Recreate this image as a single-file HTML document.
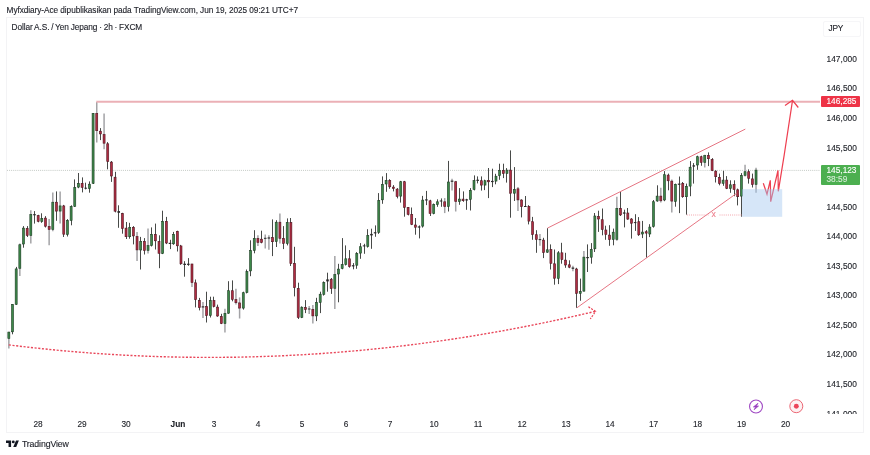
<!DOCTYPE html>
<html lang="id">
<head>
<meta charset="utf-8">
<title>Dollar A.S. / Yen Jepang · 2h · FXCM</title>
<style>
  html,body{margin:0;padding:0;background:#fff;}
  body{width:870px;height:455px;overflow:hidden;position:relative;font-family:"Liberation Sans",sans-serif;color:#131722;}
  .abs{position:absolute;white-space:nowrap;line-height:1;-webkit-text-stroke:0.12px currentColor;}
  #hdr{left:6.6px;top:6.9px;font-size:8.25px;letter-spacing:-0.06px;color:#1c1e26;}
  #chart{position:absolute;left:6px;top:17px;width:858px;height:416px;border:1px solid #f3f3f5;box-sizing:border-box;}
  #sym{left:11.6px;top:23.3px;font-size:8.3px;letter-spacing:-0.1px;word-spacing:-0.35px;color:#1c1e26;}
  #cur{left:823px;top:20.5px;width:37.5px;height:16px;border:1px solid #f6f6f8;border-radius:2px;box-sizing:border-box;font-size:8.3px;letter-spacing:-0.2px;color:#1c1e26;}
  #cur span{position:absolute;left:4.5px;top:2.9px;}
  .pl{right:13.1px;font-size:8.35px;letter-spacing:0.03px;color:#1e2027;}
  .tl{font-size:8.3px;color:#1e2027;top:420.1px;transform:translateX(-50%);}
  .tag{left:820.6px;width:39.6px;border-radius:1px;color:#fff;font-size:8.3px;box-sizing:border-box;}
  #tagr{top:96.3px;height:10.9px;background:#ee3346;}
  #tagg{top:165.1px;height:19.7px;background:#4caf50;}
  .tag span{position:absolute;left:5.9px;white-space:nowrap;line-height:1;}
  #logo{left:6px;top:437px;}
  #logot{left:21.9px;top:439.9px;font-size:8.75px;letter-spacing:-0.12px;color:#1c1e26;}
  svg{position:absolute;left:0;top:0;}
</style>
</head>
<body>
<div id="hdr" class="abs">Myfxdiary-Ace dipublikasikan pada TradingView.com, Jun 19, 2025 09:21 UTC+7</div>
<div id="chart"></div>
<div id="sym" class="abs">Dollar A.S. / Yen Jepang · 2h · FXCM</div>
<div id="cur" class="abs"><span>JPY</span></div>

<svg width="870" height="455" viewBox="0 0 870 455">
  <!-- right axis separator -->
  <!-- current price dotted line -->
  <line x1="7" y1="170.4" x2="820" y2="170.4" stroke="#b0b8b2" stroke-width="0.75" stroke-dasharray="1 1.07"/>
  <!-- candles -->
  <g shape-rendering="auto">
<line x1="8.85" y1="331.8" x2="8.85" y2="348.5" stroke="#a3a3a6" stroke-width="1.5"/>
<rect x="7.85" y="332.1" width="2.0" height="6.4" fill="#3d8849" stroke="#1d3c24" stroke-width="0.6"/>
<line x1="12.5" y1="304.2" x2="12.5" y2="334.3" stroke="#484a48" stroke-width="1"/>
<rect x="11.51" y="304.5" width="2.0" height="27.3" fill="#3d8849" stroke="#1d3c24" stroke-width="0.6"/>
<line x1="16.5" y1="266.9" x2="16.5" y2="304.8" stroke="#484a48" stroke-width="1"/>
<rect x="15.17" y="268.9" width="2.0" height="35.4" fill="#3d8849" stroke="#1d3c24" stroke-width="0.6"/>
<line x1="19.83" y1="243.5" x2="19.83" y2="276.1" stroke="#a3a3a6" stroke-width="1.5"/>
<rect x="18.83" y="244.7" width="2.0" height="23.6" fill="#3d8849" stroke="#1d3c24" stroke-width="0.6"/>
<line x1="23.5" y1="226.1" x2="23.5" y2="247.7" stroke="#484a48" stroke-width="1"/>
<rect x="22.50" y="228.1" width="2.0" height="15.9" fill="#3d8849" stroke="#1d3c24" stroke-width="0.6"/>
<line x1="27.5" y1="226.1" x2="27.5" y2="237.0" stroke="#484a48" stroke-width="1"/>
<rect x="26.16" y="228.4" width="2.0" height="7.1" fill="#b02c42" stroke="#4e1620" stroke-width="0.6"/>
<line x1="30.82" y1="210.3" x2="30.82" y2="243.5" stroke="#a3a3a6" stroke-width="1.5"/>
<rect x="29.82" y="214.4" width="2.0" height="21.1" fill="#3d8849" stroke="#1d3c24" stroke-width="0.6"/>
<line x1="34.5" y1="211.1" x2="34.5" y2="223.6" stroke="#484a48" stroke-width="1"/>
<rect x="33.18" y="214.1" width="2.6" height="1.2" fill="#2a2a2a"/>
<line x1="38.5" y1="214.8" x2="38.5" y2="222.3" stroke="#484a48" stroke-width="1"/>
<rect x="37.15" y="215.6" width="2.0" height="5.7" fill="#b02c42" stroke="#4e1620" stroke-width="0.6"/>
<line x1="41.5" y1="213.3" x2="41.5" y2="222.8" stroke="#484a48" stroke-width="1"/>
<rect x="40.81" y="218.4" width="2.0" height="3.2" fill="#3d8849" stroke="#1d3c24" stroke-width="0.6"/>
<line x1="45.5" y1="216.1" x2="45.5" y2="227.5" stroke="#484a48" stroke-width="1"/>
<rect x="44.47" y="218.1" width="2.0" height="8.1" fill="#b02c42" stroke="#4e1620" stroke-width="0.6"/>
<line x1="49.14" y1="219.1" x2="49.14" y2="245.2" stroke="#a3a3a6" stroke-width="1.5"/>
<rect x="48.14" y="226.4" width="2.0" height="3.1" fill="#b02c42" stroke="#4e1620" stroke-width="0.6"/>
<line x1="52.80" y1="192.4" x2="52.80" y2="231.2" stroke="#a3a3a6" stroke-width="1.5"/>
<rect x="51.80" y="202.2" width="2.0" height="27.3" fill="#3d8849" stroke="#1d3c24" stroke-width="0.6"/>
<line x1="56.5" y1="191.4" x2="56.5" y2="220.8" stroke="#484a48" stroke-width="1"/>
<rect x="55.46" y="202.2" width="2.0" height="8.9" fill="#b02c42" stroke="#4e1620" stroke-width="0.6"/>
<line x1="60.12" y1="191.4" x2="60.12" y2="223.6" stroke="#a3a3a6" stroke-width="1.5"/>
<rect x="59.12" y="205.9" width="2.0" height="5.2" fill="#3d8849" stroke="#1d3c24" stroke-width="0.6"/>
<line x1="63.5" y1="204.9" x2="63.5" y2="237.0" stroke="#484a48" stroke-width="1"/>
<rect x="62.79" y="205.9" width="2.0" height="28.3" fill="#b02c42" stroke="#4e1620" stroke-width="0.6"/>
<line x1="67.5" y1="219.1" x2="67.5" y2="236.5" stroke="#484a48" stroke-width="1"/>
<rect x="66.45" y="220.6" width="2.0" height="13.9" fill="#3d8849" stroke="#1d3c24" stroke-width="0.6"/>
<line x1="71.5" y1="205.3" x2="71.5" y2="225.3" stroke="#484a48" stroke-width="1"/>
<rect x="70.11" y="206.4" width="2.0" height="14.1" fill="#3d8849" stroke="#1d3c24" stroke-width="0.6"/>
<line x1="74.5" y1="179.4" x2="74.5" y2="206.9" stroke="#484a48" stroke-width="1"/>
<rect x="73.77" y="187.5" width="2.0" height="18.8" fill="#3d8849" stroke="#1d3c24" stroke-width="0.6"/>
<line x1="78.5" y1="173.0" x2="78.5" y2="188.2" stroke="#484a48" stroke-width="1"/>
<rect x="77.44" y="183.5" width="2.0" height="3.6" fill="#3d8849" stroke="#1d3c24" stroke-width="0.6"/>
<line x1="82.5" y1="177.4" x2="82.5" y2="192.4" stroke="#484a48" stroke-width="1"/>
<rect x="81.10" y="183.3" width="2.0" height="4.1" fill="#b02c42" stroke="#4e1620" stroke-width="0.6"/>
<line x1="85.5" y1="182.7" x2="85.5" y2="189.4" stroke="#484a48" stroke-width="1"/>
<rect x="84.46" y="187.7" width="2.6" height="1.0" fill="#2a2a2a"/>
<line x1="89.5" y1="181.4" x2="89.5" y2="192.7" stroke="#484a48" stroke-width="1"/>
<rect x="88.43" y="184.2" width="2.0" height="4.4" fill="#3d8849" stroke="#1d3c24" stroke-width="0.6"/>
<line x1="93.5" y1="113.1" x2="93.5" y2="184.0" stroke="#484a48" stroke-width="1"/>
<rect x="92.09" y="113.4" width="2.0" height="69.9" fill="#3d8849" stroke="#1d3c24" stroke-width="0.6"/>
<line x1="96.75" y1="102.0" x2="96.75" y2="142.6" stroke="#a3a3a6" stroke-width="1.5"/>
<rect x="95.75" y="113.4" width="2.0" height="17.3" fill="#b02c42" stroke="#4e1620" stroke-width="0.6"/>
<line x1="100.5" y1="128.1" x2="100.5" y2="140.1" stroke="#484a48" stroke-width="1"/>
<rect x="99.41" y="131.2" width="2.0" height="2.7" fill="#b02c42" stroke="#4e1620" stroke-width="0.6"/>
<line x1="104.08" y1="113.4" x2="104.08" y2="149.3" stroke="#a3a3a6" stroke-width="1.5"/>
<rect x="103.08" y="134.6" width="2.0" height="8.6" fill="#b02c42" stroke="#4e1620" stroke-width="0.6"/>
<line x1="107.5" y1="142.1" x2="107.5" y2="169.3" stroke="#484a48" stroke-width="1"/>
<rect x="106.74" y="143.8" width="2.0" height="17.8" fill="#b02c42" stroke="#4e1620" stroke-width="0.6"/>
<line x1="111.5" y1="161.0" x2="111.5" y2="181.9" stroke="#484a48" stroke-width="1"/>
<rect x="110.40" y="162.1" width="2.0" height="13.9" fill="#b02c42" stroke="#4e1620" stroke-width="0.6"/>
<line x1="115.5" y1="171.8" x2="115.5" y2="212.4" stroke="#484a48" stroke-width="1"/>
<rect x="114.06" y="177.2" width="2.0" height="34.0" fill="#b02c42" stroke="#4e1620" stroke-width="0.6"/>
<line x1="118.5" y1="205.3" x2="118.5" y2="227.8" stroke="#484a48" stroke-width="1"/>
<rect x="117.43" y="211.1" width="2.6" height="1.7" fill="#2a2a2a"/>
<line x1="122.5" y1="212.8" x2="122.5" y2="233.7" stroke="#484a48" stroke-width="1"/>
<rect x="121.39" y="213.6" width="2.0" height="14.8" fill="#b02c42" stroke="#4e1620" stroke-width="0.6"/>
<line x1="126.5" y1="222.0" x2="126.5" y2="239.0" stroke="#484a48" stroke-width="1"/>
<rect x="125.05" y="228.1" width="2.0" height="8.6" fill="#b02c42" stroke="#4e1620" stroke-width="0.6"/>
<line x1="129.5" y1="222.8" x2="129.5" y2="238.7" stroke="#484a48" stroke-width="1"/>
<rect x="128.72" y="227.3" width="2.0" height="9.4" fill="#3d8849" stroke="#1d3c24" stroke-width="0.6"/>
<line x1="133.5" y1="226.1" x2="133.5" y2="244.4" stroke="#484a48" stroke-width="1"/>
<rect x="132.38" y="227.3" width="2.0" height="8.6" fill="#b02c42" stroke="#4e1620" stroke-width="0.6"/>
<line x1="137.04" y1="232.0" x2="137.04" y2="261.1" stroke="#a3a3a6" stroke-width="1.5"/>
<rect x="136.04" y="236.5" width="2.0" height="13.4" fill="#b02c42" stroke="#4e1620" stroke-width="0.6"/>
<line x1="140.5" y1="236.9" x2="140.5" y2="269.5" stroke="#484a48" stroke-width="1"/>
<rect x="139.70" y="241.3" width="2.0" height="8.7" fill="#3d8849" stroke="#1d3c24" stroke-width="0.6"/>
<line x1="144.5" y1="238.1" x2="144.5" y2="254.5" stroke="#484a48" stroke-width="1"/>
<rect x="143.37" y="241.4" width="2.0" height="9.1" fill="#b02c42" stroke="#4e1620" stroke-width="0.6"/>
<line x1="148.03" y1="228.6" x2="148.03" y2="253.6" stroke="#a3a3a6" stroke-width="1.5"/>
<rect x="147.03" y="245.6" width="2.0" height="4.9" fill="#3d8849" stroke="#1d3c24" stroke-width="0.6"/>
<line x1="151.5" y1="227.4" x2="151.5" y2="246.5" stroke="#484a48" stroke-width="1"/>
<rect x="150.69" y="234.4" width="2.0" height="11.1" fill="#3d8849" stroke="#1d3c24" stroke-width="0.6"/>
<line x1="155.5" y1="223.6" x2="155.5" y2="249.5" stroke="#484a48" stroke-width="1"/>
<rect x="154.35" y="234.4" width="2.0" height="6.4" fill="#b02c42" stroke="#4e1620" stroke-width="0.6"/>
<line x1="159.5" y1="235.3" x2="159.5" y2="268.2" stroke="#484a48" stroke-width="1"/>
<rect x="158.02" y="241.4" width="2.0" height="11.9" fill="#b02c42" stroke="#4e1620" stroke-width="0.6"/>
<line x1="162.5" y1="210.7" x2="162.5" y2="254.1" stroke="#484a48" stroke-width="1"/>
<rect x="161.68" y="221.4" width="2.0" height="32.0" fill="#3d8849" stroke="#1d3c24" stroke-width="0.6"/>
<line x1="166.5" y1="216.9" x2="166.5" y2="244.1" stroke="#484a48" stroke-width="1"/>
<rect x="165.34" y="221.4" width="2.0" height="21.6" fill="#b02c42" stroke="#4e1620" stroke-width="0.6"/>
<line x1="170.5" y1="239.8" x2="170.5" y2="249.1" stroke="#484a48" stroke-width="1"/>
<rect x="168.70" y="242.8" width="2.6" height="1.2" fill="#2a2a2a"/>
<line x1="173.5" y1="231.9" x2="173.5" y2="244.8" stroke="#484a48" stroke-width="1"/>
<rect x="172.67" y="234.4" width="2.0" height="9.4" fill="#3d8849" stroke="#1d3c24" stroke-width="0.6"/>
<line x1="177.5" y1="230.7" x2="177.5" y2="251.5" stroke="#484a48" stroke-width="1"/>
<rect x="176.33" y="231.4" width="2.0" height="14.4" fill="#b02c42" stroke="#4e1620" stroke-width="0.6"/>
<line x1="180.5" y1="244.9" x2="180.5" y2="264.8" stroke="#484a48" stroke-width="1"/>
<rect x="179.99" y="245.9" width="2.0" height="17.9" fill="#b02c42" stroke="#4e1620" stroke-width="0.6"/>
<line x1="184.5" y1="261.2" x2="184.5" y2="276.7" stroke="#484a48" stroke-width="1"/>
<rect x="183.36" y="263.7" width="2.6" height="1.3" fill="#2a2a2a"/>
<line x1="188.5" y1="258.1" x2="188.5" y2="265.8" stroke="#484a48" stroke-width="1"/>
<rect x="187.02" y="263.7" width="2.6" height="1.2" fill="#2a2a2a"/>
<line x1="191.98" y1="263.7" x2="191.98" y2="287.1" stroke="#a3a3a6" stroke-width="1.5"/>
<rect x="190.98" y="264.0" width="2.0" height="18.6" fill="#b02c42" stroke="#4e1620" stroke-width="0.6"/>
<line x1="195.5" y1="279.5" x2="195.5" y2="307.4" stroke="#484a48" stroke-width="1"/>
<rect x="194.64" y="282.8" width="2.0" height="16.9" fill="#b02c42" stroke="#4e1620" stroke-width="0.6"/>
<line x1="199.5" y1="297.9" x2="199.5" y2="310.4" stroke="#484a48" stroke-width="1"/>
<rect x="198.31" y="300.4" width="2.0" height="7.3" fill="#b02c42" stroke="#4e1620" stroke-width="0.6"/>
<line x1="202.97" y1="302.1" x2="202.97" y2="318.0" stroke="#a3a3a6" stroke-width="1.5"/>
<rect x="201.67" y="306.3" width="2.6" height="1.2" fill="#2a2a2a"/>
<line x1="206.5" y1="291.7" x2="206.5" y2="322.5" stroke="#484a48" stroke-width="1"/>
<rect x="205.63" y="306.6" width="2.0" height="8.9" fill="#b02c42" stroke="#4e1620" stroke-width="0.6"/>
<line x1="210.5" y1="296.7" x2="210.5" y2="317.5" stroke="#484a48" stroke-width="1"/>
<rect x="209.29" y="300.4" width="2.0" height="15.1" fill="#3d8849" stroke="#1d3c24" stroke-width="0.6"/>
<line x1="213.5" y1="296.7" x2="213.5" y2="307.4" stroke="#484a48" stroke-width="1"/>
<rect x="212.96" y="300.4" width="2.0" height="6.1" fill="#b02c42" stroke="#4e1620" stroke-width="0.6"/>
<line x1="217.5" y1="304.6" x2="217.5" y2="316.8" stroke="#484a48" stroke-width="1"/>
<rect x="216.62" y="307.1" width="2.0" height="8.9" fill="#b02c42" stroke="#4e1620" stroke-width="0.6"/>
<line x1="221.5" y1="313.8" x2="221.5" y2="324.1" stroke="#484a48" stroke-width="1"/>
<rect x="220.28" y="316.6" width="2.0" height="6.9" fill="#b02c42" stroke="#4e1620" stroke-width="0.6"/>
<line x1="224.95" y1="308.8" x2="224.95" y2="332.5" stroke="#a3a3a6" stroke-width="1.5"/>
<rect x="223.95" y="313.3" width="2.0" height="10.3" fill="#3d8849" stroke="#1d3c24" stroke-width="0.6"/>
<line x1="228.5" y1="281.2" x2="228.5" y2="313.8" stroke="#484a48" stroke-width="1"/>
<rect x="227.61" y="290.7" width="2.0" height="22.5" fill="#3d8849" stroke="#1d3c24" stroke-width="0.6"/>
<line x1="232.5" y1="280.4" x2="232.5" y2="301.3" stroke="#484a48" stroke-width="1"/>
<rect x="231.27" y="290.7" width="2.0" height="8.6" fill="#b02c42" stroke="#4e1620" stroke-width="0.6"/>
<line x1="235.93" y1="288.7" x2="235.93" y2="304.6" stroke="#a3a3a6" stroke-width="1.5"/>
<rect x="234.93" y="299.6" width="2.0" height="3.1" fill="#b02c42" stroke="#4e1620" stroke-width="0.6"/>
<line x1="239.60" y1="297.4" x2="239.60" y2="318.5" stroke="#a3a3a6" stroke-width="1.5"/>
<rect x="238.60" y="302.9" width="2.0" height="5.2" fill="#b02c42" stroke="#4e1620" stroke-width="0.6"/>
<line x1="243.5" y1="291.7" x2="243.5" y2="309.6" stroke="#484a48" stroke-width="1"/>
<rect x="242.26" y="292.7" width="2.0" height="15.4" fill="#3d8849" stroke="#1d3c24" stroke-width="0.6"/>
<line x1="246.5" y1="269.5" x2="246.5" y2="293.4" stroke="#484a48" stroke-width="1"/>
<rect x="245.92" y="271.5" width="2.0" height="21.1" fill="#3d8849" stroke="#1d3c24" stroke-width="0.6"/>
<line x1="250.5" y1="240.3" x2="250.5" y2="276.2" stroke="#484a48" stroke-width="1"/>
<rect x="249.58" y="250.6" width="2.0" height="20.3" fill="#3d8849" stroke="#1d3c24" stroke-width="0.6"/>
<line x1="254.5" y1="230.2" x2="254.5" y2="253.3" stroke="#484a48" stroke-width="1"/>
<rect x="253.25" y="238.4" width="2.0" height="12.1" fill="#3d8849" stroke="#1d3c24" stroke-width="0.6"/>
<line x1="257.91" y1="235.3" x2="257.91" y2="246.1" stroke="#a3a3a6" stroke-width="1.5"/>
<rect x="256.91" y="238.4" width="2.0" height="4.1" fill="#b02c42" stroke="#4e1620" stroke-width="0.6"/>
<line x1="261.5" y1="230.7" x2="261.5" y2="243.3" stroke="#484a48" stroke-width="1"/>
<rect x="260.57" y="239.2" width="2.0" height="3.2" fill="#b02c42" stroke="#4e1620" stroke-width="0.6"/>
<line x1="265.24" y1="234.4" x2="265.24" y2="248.6" stroke="#a3a3a6" stroke-width="1.5"/>
<rect x="263.94" y="237.8" width="2.6" height="1.0" fill="#2a2a2a"/>
<line x1="268.90" y1="235.3" x2="268.90" y2="249.8" stroke="#a3a3a6" stroke-width="1.5"/>
<rect x="267.60" y="237.4" width="2.6" height="1.2" fill="#2a2a2a"/>
<line x1="272.5" y1="219.4" x2="272.5" y2="256.1" stroke="#484a48" stroke-width="1"/>
<rect x="271.56" y="237.6" width="2.0" height="4.1" fill="#b02c42" stroke="#4e1620" stroke-width="0.6"/>
<line x1="276.5" y1="220.2" x2="276.5" y2="247.0" stroke="#484a48" stroke-width="1"/>
<rect x="275.22" y="222.2" width="2.0" height="19.4" fill="#3d8849" stroke="#1d3c24" stroke-width="0.6"/>
<line x1="279.89" y1="213.5" x2="279.89" y2="243.6" stroke="#a3a3a6" stroke-width="1.5"/>
<rect x="278.89" y="222.2" width="2.0" height="16.1" fill="#b02c42" stroke="#4e1620" stroke-width="0.6"/>
<line x1="283.5" y1="226.1" x2="283.5" y2="249.1" stroke="#484a48" stroke-width="1"/>
<rect x="282.55" y="238.6" width="2.0" height="4.7" fill="#b02c42" stroke="#4e1620" stroke-width="0.6"/>
<line x1="287.5" y1="218.4" x2="287.5" y2="245.4" stroke="#484a48" stroke-width="1"/>
<rect x="286.21" y="222.4" width="2.0" height="21.1" fill="#3d8849" stroke="#1d3c24" stroke-width="0.6"/>
<line x1="290.5" y1="218.0" x2="290.5" y2="266.0" stroke="#484a48" stroke-width="1"/>
<rect x="289.87" y="222.4" width="2.0" height="41.2" fill="#b02c42" stroke="#4e1620" stroke-width="0.6"/>
<line x1="294.5" y1="246.8" x2="294.5" y2="296.4" stroke="#484a48" stroke-width="1"/>
<rect x="293.54" y="263.4" width="2.0" height="24.3" fill="#b02c42" stroke="#4e1620" stroke-width="0.6"/>
<line x1="298.5" y1="282.7" x2="298.5" y2="319.0" stroke="#484a48" stroke-width="1"/>
<rect x="297.20" y="288.4" width="2.0" height="29.1" fill="#b02c42" stroke="#4e1620" stroke-width="0.6"/>
<line x1="301.5" y1="306.4" x2="301.5" y2="318.1" stroke="#484a48" stroke-width="1"/>
<rect x="300.86" y="307.2" width="2.0" height="10.3" fill="#3d8849" stroke="#1d3c24" stroke-width="0.6"/>
<line x1="305.5" y1="300.1" x2="305.5" y2="313.1" stroke="#484a48" stroke-width="1"/>
<rect x="304.52" y="307.6" width="2.0" height="1.9" fill="#b02c42" stroke="#4e1620" stroke-width="0.6"/>
<line x1="309.19" y1="306.1" x2="309.19" y2="314.0" stroke="#a3a3a6" stroke-width="1.5"/>
<rect x="307.89" y="308.5" width="2.6" height="1.0" fill="#2a2a2a"/>
<line x1="312.85" y1="305.1" x2="312.85" y2="323.5" stroke="#a3a3a6" stroke-width="1.5"/>
<rect x="311.85" y="309.3" width="2.0" height="6.6" fill="#b02c42" stroke="#4e1620" stroke-width="0.6"/>
<line x1="316.5" y1="297.8" x2="316.5" y2="321.1" stroke="#484a48" stroke-width="1"/>
<rect x="315.51" y="302.6" width="2.0" height="13.3" fill="#3d8849" stroke="#1d3c24" stroke-width="0.6"/>
<line x1="320.5" y1="291.7" x2="320.5" y2="313.1" stroke="#484a48" stroke-width="1"/>
<rect x="319.18" y="294.2" width="2.0" height="8.3" fill="#3d8849" stroke="#1d3c24" stroke-width="0.6"/>
<line x1="323.5" y1="281.4" x2="323.5" y2="295.6" stroke="#484a48" stroke-width="1"/>
<rect x="322.84" y="282.5" width="2.0" height="11.9" fill="#3d8849" stroke="#1d3c24" stroke-width="0.6"/>
<line x1="327.5" y1="272.7" x2="327.5" y2="291.7" stroke="#484a48" stroke-width="1"/>
<rect x="326.20" y="279.4" width="2.6" height="2.0" fill="#2a2a2a"/>
<line x1="331.5" y1="278.0" x2="331.5" y2="293.9" stroke="#484a48" stroke-width="1"/>
<rect x="330.16" y="279.2" width="2.0" height="9.4" fill="#b02c42" stroke="#4e1620" stroke-width="0.6"/>
<line x1="334.83" y1="256.0" x2="334.83" y2="309.0" stroke="#a3a3a6" stroke-width="1.5"/>
<rect x="333.83" y="274.5" width="2.0" height="13.8" fill="#3d8849" stroke="#1d3c24" stroke-width="0.6"/>
<line x1="338.5" y1="263.8" x2="338.5" y2="302.3" stroke="#484a48" stroke-width="1"/>
<rect x="337.49" y="269.1" width="2.0" height="4.9" fill="#3d8849" stroke="#1d3c24" stroke-width="0.6"/>
<line x1="342.5" y1="238.1" x2="342.5" y2="269.3" stroke="#484a48" stroke-width="1"/>
<rect x="341.15" y="264.6" width="2.0" height="3.9" fill="#3d8849" stroke="#1d3c24" stroke-width="0.6"/>
<line x1="345.5" y1="245.4" x2="345.5" y2="265.5" stroke="#484a48" stroke-width="1"/>
<rect x="344.81" y="258.8" width="2.0" height="5.7" fill="#3d8849" stroke="#1d3c24" stroke-width="0.6"/>
<line x1="349.5" y1="250.1" x2="349.5" y2="267.7" stroke="#484a48" stroke-width="1"/>
<rect x="348.48" y="258.8" width="2.0" height="7.8" fill="#b02c42" stroke="#4e1620" stroke-width="0.6"/>
<line x1="353.5" y1="263.1" x2="353.5" y2="269.3" stroke="#484a48" stroke-width="1"/>
<rect x="351.84" y="265.2" width="2.6" height="1.2" fill="#2a2a2a"/>
<line x1="356.5" y1="252.1" x2="356.5" y2="268.8" stroke="#484a48" stroke-width="1"/>
<rect x="355.80" y="253.4" width="2.0" height="11.8" fill="#3d8849" stroke="#1d3c24" stroke-width="0.6"/>
<line x1="360.5" y1="243.1" x2="360.5" y2="258.8" stroke="#484a48" stroke-width="1"/>
<rect x="359.47" y="246.7" width="2.0" height="6.4" fill="#3d8849" stroke="#1d3c24" stroke-width="0.6"/>
<line x1="364.5" y1="243.8" x2="364.5" y2="253.8" stroke="#484a48" stroke-width="1"/>
<rect x="362.83" y="245.4" width="2.6" height="1.0" fill="#2a2a2a"/>
<line x1="367.5" y1="229.2" x2="367.5" y2="247.6" stroke="#484a48" stroke-width="1"/>
<rect x="366.79" y="235.4" width="2.0" height="11.1" fill="#3d8849" stroke="#1d3c24" stroke-width="0.6"/>
<line x1="371.5" y1="228.7" x2="371.5" y2="248.8" stroke="#484a48" stroke-width="1"/>
<rect x="370.15" y="233.9" width="2.6" height="1.5" fill="#2a2a2a"/>
<line x1="375.5" y1="225.4" x2="375.5" y2="236.8" stroke="#484a48" stroke-width="1"/>
<rect x="373.82" y="232.2" width="2.6" height="1.2" fill="#2a2a2a"/>
<line x1="378.5" y1="193.1" x2="378.5" y2="233.9" stroke="#484a48" stroke-width="1"/>
<rect x="377.78" y="200.4" width="2.0" height="31.9" fill="#3d8849" stroke="#1d3c24" stroke-width="0.6"/>
<line x1="382.5" y1="176.4" x2="382.5" y2="203.8" stroke="#484a48" stroke-width="1"/>
<rect x="381.44" y="184.5" width="2.0" height="15.3" fill="#3d8849" stroke="#1d3c24" stroke-width="0.6"/>
<line x1="386.5" y1="173.1" x2="386.5" y2="191.8" stroke="#484a48" stroke-width="1"/>
<rect x="385.10" y="180.4" width="2.0" height="3.6" fill="#3d8849" stroke="#1d3c24" stroke-width="0.6"/>
<line x1="389.5" y1="179.2" x2="389.5" y2="188.8" stroke="#484a48" stroke-width="1"/>
<rect x="388.77" y="180.4" width="2.0" height="6.4" fill="#b02c42" stroke="#4e1620" stroke-width="0.6"/>
<line x1="393.5" y1="185.1" x2="393.5" y2="191.4" stroke="#484a48" stroke-width="1"/>
<rect x="392.43" y="187.1" width="2.0" height="1.4" fill="#b02c42" stroke="#4e1620" stroke-width="0.6"/>
<line x1="397.5" y1="188.1" x2="397.5" y2="198.4" stroke="#484a48" stroke-width="1"/>
<rect x="396.09" y="189.1" width="2.0" height="7.4" fill="#b02c42" stroke="#4e1620" stroke-width="0.6"/>
<line x1="400.5" y1="180.9" x2="400.5" y2="202.6" stroke="#484a48" stroke-width="1"/>
<rect x="399.75" y="181.7" width="2.0" height="14.4" fill="#3d8849" stroke="#1d3c24" stroke-width="0.6"/>
<line x1="404.5" y1="180.9" x2="404.5" y2="216.7" stroke="#484a48" stroke-width="1"/>
<rect x="403.42" y="181.7" width="2.0" height="25.6" fill="#b02c42" stroke="#4e1620" stroke-width="0.6"/>
<line x1="408.5" y1="207.0" x2="408.5" y2="215.4" stroke="#484a48" stroke-width="1"/>
<rect x="407.08" y="207.3" width="2.0" height="7.2" fill="#b02c42" stroke="#4e1620" stroke-width="0.6"/>
<line x1="411.5" y1="207.5" x2="411.5" y2="225.1" stroke="#484a48" stroke-width="1"/>
<rect x="410.74" y="214.5" width="2.0" height="9.9" fill="#b02c42" stroke="#4e1620" stroke-width="0.6"/>
<line x1="415.5" y1="218.0" x2="415.5" y2="234.7" stroke="#484a48" stroke-width="1"/>
<rect x="414.41" y="225.0" width="2.0" height="2.2" fill="#b02c42" stroke="#4e1620" stroke-width="0.6"/>
<line x1="419.5" y1="225.4" x2="419.5" y2="238.4" stroke="#484a48" stroke-width="1"/>
<rect x="417.77" y="226.4" width="2.6" height="1.2" fill="#2a2a2a"/>
<line x1="422.5" y1="195.9" x2="422.5" y2="227.6" stroke="#484a48" stroke-width="1"/>
<rect x="421.73" y="200.1" width="2.0" height="26.0" fill="#3d8849" stroke="#1d3c24" stroke-width="0.6"/>
<line x1="426.5" y1="190.9" x2="426.5" y2="205.1" stroke="#484a48" stroke-width="1"/>
<rect x="425.09" y="199.3" width="2.6" height="1.2" fill="#2a2a2a"/>
<line x1="430.5" y1="199.8" x2="430.5" y2="216.0" stroke="#484a48" stroke-width="1"/>
<rect x="429.06" y="200.8" width="2.0" height="12.8" fill="#b02c42" stroke="#4e1620" stroke-width="0.6"/>
<line x1="433.5" y1="203.5" x2="433.5" y2="214.3" stroke="#484a48" stroke-width="1"/>
<rect x="432.72" y="204.6" width="2.0" height="8.9" fill="#3d8849" stroke="#1d3c24" stroke-width="0.6"/>
<line x1="437.5" y1="199.3" x2="437.5" y2="206.8" stroke="#484a48" stroke-width="1"/>
<rect x="436.38" y="201.8" width="2.0" height="2.7" fill="#3d8849" stroke="#1d3c24" stroke-width="0.6"/>
<line x1="441.5" y1="198.4" x2="441.5" y2="206.8" stroke="#484a48" stroke-width="1"/>
<rect x="439.74" y="200.5" width="2.6" height="1.0" fill="#2a2a2a"/>
<line x1="444.71" y1="198.1" x2="444.71" y2="213.1" stroke="#a3a3a6" stroke-width="1.5"/>
<rect x="443.71" y="201.8" width="2.0" height="4.7" fill="#b02c42" stroke="#4e1620" stroke-width="0.6"/>
<line x1="448.5" y1="160.9" x2="448.5" y2="211.5" stroke="#484a48" stroke-width="1"/>
<rect x="447.37" y="182.0" width="2.0" height="24.5" fill="#3d8849" stroke="#1d3c24" stroke-width="0.6"/>
<line x1="452.03" y1="178.7" x2="452.03" y2="190.6" stroke="#a3a3a6" stroke-width="1.5"/>
<rect x="450.73" y="180.6" width="2.6" height="1.2" fill="#2a2a2a"/>
<line x1="455.70" y1="180.9" x2="455.70" y2="211.5" stroke="#a3a3a6" stroke-width="1.5"/>
<rect x="454.70" y="181.7" width="2.0" height="19.8" fill="#b02c42" stroke="#4e1620" stroke-width="0.6"/>
<line x1="459.5" y1="188.1" x2="459.5" y2="204.8" stroke="#484a48" stroke-width="1"/>
<rect x="458.36" y="199.1" width="2.0" height="2.4" fill="#3d8849" stroke="#1d3c24" stroke-width="0.6"/>
<line x1="463.5" y1="191.4" x2="463.5" y2="201.8" stroke="#484a48" stroke-width="1"/>
<rect x="462.02" y="199.1" width="2.0" height="1.6" fill="#b02c42" stroke="#4e1620" stroke-width="0.6"/>
<line x1="466.5" y1="198.8" x2="466.5" y2="209.8" stroke="#484a48" stroke-width="1"/>
<rect x="465.38" y="199.3" width="2.6" height="1.2" fill="#2a2a2a"/>
<line x1="470.5" y1="188.1" x2="470.5" y2="210.5" stroke="#484a48" stroke-width="1"/>
<rect x="469.35" y="190.4" width="2.0" height="8.9" fill="#3d8849" stroke="#1d3c24" stroke-width="0.6"/>
<line x1="474.5" y1="175.4" x2="474.5" y2="190.4" stroke="#484a48" stroke-width="1"/>
<rect x="473.01" y="180.4" width="2.0" height="9.1" fill="#3d8849" stroke="#1d3c24" stroke-width="0.6"/>
<line x1="477.5" y1="176.4" x2="477.5" y2="183.4" stroke="#484a48" stroke-width="1"/>
<rect x="476.37" y="179.7" width="2.6" height="1.2" fill="#2a2a2a"/>
<line x1="481.5" y1="176.4" x2="481.5" y2="190.6" stroke="#484a48" stroke-width="1"/>
<rect x="480.33" y="180.7" width="2.0" height="4.4" fill="#b02c42" stroke="#4e1620" stroke-width="0.6"/>
<line x1="484.5" y1="179.7" x2="484.5" y2="190.1" stroke="#484a48" stroke-width="1"/>
<rect x="484.00" y="180.7" width="2.0" height="4.4" fill="#3d8849" stroke="#1d3c24" stroke-width="0.6"/>
<line x1="488.5" y1="168.0" x2="488.5" y2="198.1" stroke="#484a48" stroke-width="1"/>
<rect x="487.66" y="180.4" width="2.0" height="1.4" fill="#b02c42" stroke="#4e1620" stroke-width="0.6"/>
<line x1="492.5" y1="168.7" x2="492.5" y2="187.1" stroke="#484a48" stroke-width="1"/>
<rect x="491.02" y="180.9" width="2.6" height="1.2" fill="#2a2a2a"/>
<line x1="495.5" y1="173.8" x2="495.5" y2="184.3" stroke="#484a48" stroke-width="1"/>
<rect x="494.99" y="176.2" width="2.0" height="4.9" fill="#3d8849" stroke="#1d3c24" stroke-width="0.6"/>
<line x1="499.5" y1="163.7" x2="499.5" y2="179.8" stroke="#484a48" stroke-width="1"/>
<rect x="498.65" y="170.4" width="2.0" height="5.2" fill="#3d8849" stroke="#1d3c24" stroke-width="0.6"/>
<line x1="503.5" y1="163.7" x2="503.5" y2="178.1" stroke="#484a48" stroke-width="1"/>
<rect x="502.31" y="170.4" width="2.0" height="3.1" fill="#b02c42" stroke="#4e1620" stroke-width="0.6"/>
<line x1="506.5" y1="168.1" x2="506.5" y2="182.6" stroke="#484a48" stroke-width="1"/>
<rect x="505.97" y="170.1" width="2.0" height="3.4" fill="#3d8849" stroke="#1d3c24" stroke-width="0.6"/>
<line x1="510.5" y1="150.4" x2="510.5" y2="217.7" stroke="#484a48" stroke-width="1"/>
<rect x="509.64" y="170.1" width="2.0" height="23.1" fill="#b02c42" stroke="#4e1620" stroke-width="0.6"/>
<line x1="514.5" y1="167.1" x2="514.5" y2="201.0" stroke="#484a48" stroke-width="1"/>
<rect x="513.30" y="189.6" width="2.0" height="3.6" fill="#3d8849" stroke="#1d3c24" stroke-width="0.6"/>
<line x1="517.96" y1="187.1" x2="517.96" y2="211.0" stroke="#a3a3a6" stroke-width="1.5"/>
<rect x="516.96" y="188.8" width="2.0" height="11.1" fill="#b02c42" stroke="#4e1620" stroke-width="0.6"/>
<line x1="521.5" y1="199.3" x2="521.5" y2="217.4" stroke="#484a48" stroke-width="1"/>
<rect x="520.62" y="200.0" width="2.0" height="6.6" fill="#b02c42" stroke="#4e1620" stroke-width="0.6"/>
<line x1="525.5" y1="196.0" x2="525.5" y2="207.0" stroke="#484a48" stroke-width="1"/>
<rect x="523.99" y="206.0" width="2.6" height="1.0" fill="#2a2a2a"/>
<line x1="528.5" y1="205.2" x2="528.5" y2="224.4" stroke="#484a48" stroke-width="1"/>
<rect x="527.95" y="206.3" width="2.0" height="14.8" fill="#b02c42" stroke="#4e1620" stroke-width="0.6"/>
<line x1="532.5" y1="216.9" x2="532.5" y2="239.8" stroke="#484a48" stroke-width="1"/>
<rect x="531.61" y="221.7" width="2.0" height="12.8" fill="#b02c42" stroke="#4e1620" stroke-width="0.6"/>
<line x1="536.5" y1="230.2" x2="536.5" y2="252.8" stroke="#484a48" stroke-width="1"/>
<rect x="535.27" y="234.7" width="2.0" height="4.7" fill="#b02c42" stroke="#4e1620" stroke-width="0.6"/>
<line x1="539.94" y1="234.1" x2="539.94" y2="245.8" stroke="#a3a3a6" stroke-width="1.5"/>
<rect x="538.64" y="239.1" width="2.6" height="1.0" fill="#2a2a2a"/>
<line x1="543.5" y1="237.8" x2="543.5" y2="258.1" stroke="#484a48" stroke-width="1"/>
<rect x="542.60" y="240.1" width="2.0" height="12.4" fill="#b02c42" stroke="#4e1620" stroke-width="0.6"/>
<line x1="547.5" y1="228.1" x2="547.5" y2="252.8" stroke="#484a48" stroke-width="1"/>
<rect x="546.26" y="249.8" width="2.0" height="2.4" fill="#3d8849" stroke="#1d3c24" stroke-width="0.6"/>
<line x1="550.5" y1="244.4" x2="550.5" y2="269.5" stroke="#484a48" stroke-width="1"/>
<rect x="549.93" y="249.4" width="2.0" height="13.9" fill="#b02c42" stroke="#4e1620" stroke-width="0.6"/>
<line x1="554.5" y1="249.5" x2="554.5" y2="284.7" stroke="#484a48" stroke-width="1"/>
<rect x="553.59" y="263.8" width="2.0" height="14.4" fill="#b02c42" stroke="#4e1620" stroke-width="0.6"/>
<line x1="558.5" y1="251.1" x2="558.5" y2="284.1" stroke="#484a48" stroke-width="1"/>
<rect x="557.25" y="252.8" width="2.0" height="25.5" fill="#3d8849" stroke="#1d3c24" stroke-width="0.6"/>
<line x1="561.5" y1="242.8" x2="561.5" y2="263.7" stroke="#484a48" stroke-width="1"/>
<rect x="560.91" y="252.8" width="2.0" height="6.8" fill="#b02c42" stroke="#4e1620" stroke-width="0.6"/>
<line x1="565.5" y1="252.8" x2="565.5" y2="267.8" stroke="#484a48" stroke-width="1"/>
<rect x="564.58" y="260.1" width="2.0" height="4.9" fill="#b02c42" stroke="#4e1620" stroke-width="0.6"/>
<line x1="569.5" y1="260.3" x2="569.5" y2="268.2" stroke="#484a48" stroke-width="1"/>
<rect x="568.24" y="264.8" width="2.0" height="2.4" fill="#b02c42" stroke="#4e1620" stroke-width="0.6"/>
<line x1="572.90" y1="265.8" x2="572.90" y2="271.2" stroke="#a3a3a6" stroke-width="1.5"/>
<rect x="571.60" y="267.5" width="2.6" height="1.3" fill="#2a2a2a"/>
<line x1="576.5" y1="267.8" x2="576.5" y2="307.8" stroke="#484a48" stroke-width="1"/>
<rect x="575.56" y="269.0" width="2.0" height="24.3" fill="#b02c42" stroke="#4e1620" stroke-width="0.6"/>
<line x1="580.5" y1="278.6" x2="580.5" y2="300.8" stroke="#484a48" stroke-width="1"/>
<rect x="579.23" y="291.4" width="2.0" height="1.9" fill="#3d8849" stroke="#1d3c24" stroke-width="0.6"/>
<line x1="583.89" y1="251.1" x2="583.89" y2="291.9" stroke="#a3a3a6" stroke-width="1.5"/>
<rect x="582.89" y="257.1" width="2.0" height="34.0" fill="#3d8849" stroke="#1d3c24" stroke-width="0.6"/>
<line x1="587.5" y1="244.4" x2="587.5" y2="272.0" stroke="#484a48" stroke-width="1"/>
<rect x="586.25" y="257.0" width="2.6" height="1.2" fill="#2a2a2a"/>
<line x1="591.5" y1="243.1" x2="591.5" y2="263.7" stroke="#484a48" stroke-width="1"/>
<rect x="590.22" y="249.4" width="2.0" height="7.8" fill="#3d8849" stroke="#1d3c24" stroke-width="0.6"/>
<line x1="594.5" y1="213.0" x2="594.5" y2="252.0" stroke="#484a48" stroke-width="1"/>
<rect x="593.88" y="216.0" width="2.0" height="32.8" fill="#3d8849" stroke="#1d3c24" stroke-width="0.6"/>
<line x1="598.5" y1="210.7" x2="598.5" y2="231.9" stroke="#484a48" stroke-width="1"/>
<rect x="597.54" y="216.3" width="2.0" height="2.7" fill="#b02c42" stroke="#4e1620" stroke-width="0.6"/>
<line x1="602.5" y1="208.5" x2="602.5" y2="235.3" stroke="#484a48" stroke-width="1"/>
<rect x="601.20" y="219.7" width="2.0" height="9.8" fill="#b02c42" stroke="#4e1620" stroke-width="0.6"/>
<line x1="605.5" y1="225.7" x2="605.5" y2="239.8" stroke="#484a48" stroke-width="1"/>
<rect x="604.87" y="230.0" width="2.0" height="4.4" fill="#b02c42" stroke="#4e1620" stroke-width="0.6"/>
<line x1="609.5" y1="225.2" x2="609.5" y2="245.8" stroke="#484a48" stroke-width="1"/>
<rect x="608.53" y="235.1" width="2.0" height="4.4" fill="#b02c42" stroke="#4e1620" stroke-width="0.6"/>
<line x1="613.5" y1="228.6" x2="613.5" y2="245.3" stroke="#484a48" stroke-width="1"/>
<rect x="612.19" y="232.2" width="2.0" height="7.3" fill="#3d8849" stroke="#1d3c24" stroke-width="0.6"/>
<line x1="616.85" y1="196.8" x2="616.85" y2="240.8" stroke="#a3a3a6" stroke-width="1.5"/>
<rect x="615.85" y="208.3" width="2.0" height="31.1" fill="#3d8849" stroke="#1d3c24" stroke-width="0.6"/>
<line x1="620.5" y1="192.0" x2="620.5" y2="216.0" stroke="#484a48" stroke-width="1"/>
<rect x="619.52" y="208.3" width="2.0" height="6.6" fill="#b02c42" stroke="#4e1620" stroke-width="0.6"/>
<line x1="624.5" y1="209.7" x2="624.5" y2="227.4" stroke="#484a48" stroke-width="1"/>
<rect x="622.88" y="212.4" width="2.6" height="1.3" fill="#2a2a2a"/>
<line x1="627.5" y1="208.0" x2="627.5" y2="219.7" stroke="#484a48" stroke-width="1"/>
<rect x="626.84" y="213.0" width="2.0" height="6.1" fill="#b02c42" stroke="#4e1620" stroke-width="0.6"/>
<line x1="631.5" y1="218.1" x2="631.5" y2="238.6" stroke="#484a48" stroke-width="1"/>
<rect x="630.50" y="219.0" width="2.0" height="4.2" fill="#b02c42" stroke="#4e1620" stroke-width="0.6"/>
<line x1="635.5" y1="214.2" x2="635.5" y2="230.9" stroke="#484a48" stroke-width="1"/>
<rect x="633.87" y="222.1" width="2.6" height="1.0" fill="#2a2a2a"/>
<line x1="638.5" y1="217.1" x2="638.5" y2="235.9" stroke="#484a48" stroke-width="1"/>
<rect x="637.83" y="221.7" width="2.0" height="13.1" fill="#b02c42" stroke="#4e1620" stroke-width="0.6"/>
<line x1="642.5" y1="220.9" x2="642.5" y2="238.1" stroke="#484a48" stroke-width="1"/>
<rect x="641.49" y="232.1" width="2.0" height="1.9" fill="#3d8849" stroke="#1d3c24" stroke-width="0.6"/>
<line x1="646.5" y1="230.1" x2="646.5" y2="257.7" stroke="#484a48" stroke-width="1"/>
<rect x="645.16" y="231.7" width="2.0" height="1.4" fill="#b02c42" stroke="#4e1620" stroke-width="0.6"/>
<line x1="649.5" y1="224.2" x2="649.5" y2="237.1" stroke="#484a48" stroke-width="1"/>
<rect x="648.82" y="227.1" width="2.0" height="6.9" fill="#3d8849" stroke="#1d3c24" stroke-width="0.6"/>
<line x1="653.5" y1="200.0" x2="653.5" y2="227.6" stroke="#484a48" stroke-width="1"/>
<rect x="652.48" y="201.7" width="2.0" height="24.8" fill="#3d8849" stroke="#1d3c24" stroke-width="0.6"/>
<line x1="657.5" y1="185.3" x2="657.5" y2="201.7" stroke="#484a48" stroke-width="1"/>
<rect x="656.14" y="196.1" width="2.0" height="4.9" fill="#3d8849" stroke="#1d3c24" stroke-width="0.6"/>
<line x1="660.81" y1="187.8" x2="660.81" y2="202.5" stroke="#a3a3a6" stroke-width="1.5"/>
<rect x="659.81" y="196.1" width="2.0" height="4.7" fill="#b02c42" stroke="#4e1620" stroke-width="0.6"/>
<line x1="664.5" y1="171.1" x2="664.5" y2="201.2" stroke="#484a48" stroke-width="1"/>
<rect x="663.47" y="174.7" width="2.0" height="25.3" fill="#3d8849" stroke="#1d3c24" stroke-width="0.6"/>
<line x1="668.5" y1="173.6" x2="668.5" y2="190.3" stroke="#484a48" stroke-width="1"/>
<rect x="667.13" y="175.1" width="2.0" height="5.7" fill="#b02c42" stroke="#4e1620" stroke-width="0.6"/>
<line x1="671.79" y1="179.5" x2="671.79" y2="212.6" stroke="#a3a3a6" stroke-width="1.5"/>
<rect x="670.79" y="181.1" width="2.0" height="20.0" fill="#b02c42" stroke="#4e1620" stroke-width="0.6"/>
<line x1="675.5" y1="183.6" x2="675.5" y2="206.7" stroke="#484a48" stroke-width="1"/>
<rect x="674.46" y="184.4" width="2.0" height="17.0" fill="#3d8849" stroke="#1d3c24" stroke-width="0.6"/>
<line x1="679.5" y1="176.5" x2="679.5" y2="213.1" stroke="#484a48" stroke-width="1"/>
<rect x="677.82" y="183.6" width="2.6" height="1.2" fill="#2a2a2a"/>
<line x1="682.5" y1="182.0" x2="682.5" y2="197.8" stroke="#484a48" stroke-width="1"/>
<rect x="681.78" y="183.4" width="2.0" height="13.3" fill="#b02c42" stroke="#4e1620" stroke-width="0.6"/>
<line x1="686.5" y1="183.6" x2="686.5" y2="214.7" stroke="#484a48" stroke-width="1"/>
<rect x="685.45" y="186.4" width="2.0" height="10.3" fill="#3d8849" stroke="#1d3c24" stroke-width="0.6"/>
<line x1="690.5" y1="161.1" x2="690.5" y2="196.2" stroke="#484a48" stroke-width="1"/>
<rect x="689.11" y="167.2" width="2.0" height="18.9" fill="#3d8849" stroke="#1d3c24" stroke-width="0.6"/>
<line x1="693.5" y1="163.1" x2="693.5" y2="183.6" stroke="#484a48" stroke-width="1"/>
<rect x="692.47" y="165.3" width="2.6" height="1.3" fill="#2a2a2a"/>
<line x1="697.5" y1="155.7" x2="697.5" y2="169.8" stroke="#484a48" stroke-width="1"/>
<rect x="696.43" y="156.7" width="2.0" height="8.3" fill="#3d8849" stroke="#1d3c24" stroke-width="0.6"/>
<line x1="701.5" y1="155.7" x2="701.5" y2="165.8" stroke="#484a48" stroke-width="1"/>
<rect x="700.10" y="156.7" width="2.0" height="5.7" fill="#b02c42" stroke="#4e1620" stroke-width="0.6"/>
<line x1="704.76" y1="154.7" x2="704.76" y2="167.4" stroke="#a3a3a6" stroke-width="1.5"/>
<rect x="703.76" y="155.5" width="2.0" height="6.9" fill="#3d8849" stroke="#1d3c24" stroke-width="0.6"/>
<line x1="708.5" y1="152.4" x2="708.5" y2="166.1" stroke="#484a48" stroke-width="1"/>
<rect x="707.42" y="155.5" width="2.0" height="3.2" fill="#b02c42" stroke="#4e1620" stroke-width="0.6"/>
<line x1="712.5" y1="158.1" x2="712.5" y2="171.1" stroke="#484a48" stroke-width="1"/>
<rect x="711.08" y="159.4" width="2.0" height="11.1" fill="#b02c42" stroke="#4e1620" stroke-width="0.6"/>
<line x1="715.5" y1="170.3" x2="715.5" y2="182.5" stroke="#484a48" stroke-width="1"/>
<rect x="714.75" y="171.1" width="2.0" height="5.6" fill="#b02c42" stroke="#4e1620" stroke-width="0.6"/>
<line x1="719.5" y1="173.6" x2="719.5" y2="185.3" stroke="#484a48" stroke-width="1"/>
<rect x="718.41" y="177.3" width="2.0" height="6.1" fill="#b02c42" stroke="#4e1620" stroke-width="0.6"/>
<line x1="723.5" y1="170.8" x2="723.5" y2="185.8" stroke="#484a48" stroke-width="1"/>
<rect x="722.07" y="180.1" width="2.0" height="3.2" fill="#3d8849" stroke="#1d3c24" stroke-width="0.6"/>
<line x1="726.5" y1="176.1" x2="726.5" y2="189.1" stroke="#484a48" stroke-width="1"/>
<rect x="725.74" y="180.1" width="2.0" height="8.3" fill="#b02c42" stroke="#4e1620" stroke-width="0.6"/>
<line x1="730.5" y1="180.3" x2="730.5" y2="192.8" stroke="#484a48" stroke-width="1"/>
<rect x="729.40" y="184.8" width="2.0" height="3.6" fill="#3d8849" stroke="#1d3c24" stroke-width="0.6"/>
<line x1="734.5" y1="180.3" x2="734.5" y2="196.2" stroke="#484a48" stroke-width="1"/>
<rect x="733.06" y="184.4" width="2.0" height="5.1" fill="#b02c42" stroke="#4e1620" stroke-width="0.6"/>
<line x1="737.5" y1="188.6" x2="737.5" y2="205.4" stroke="#484a48" stroke-width="1"/>
<rect x="736.72" y="189.8" width="2.0" height="6.9" fill="#b02c42" stroke="#4e1620" stroke-width="0.6"/>
<line x1="741.5" y1="173.1" x2="741.5" y2="216.7" stroke="#484a48" stroke-width="1"/>
<rect x="740.39" y="175.6" width="2.0" height="20.5" fill="#3d8849" stroke="#1d3c24" stroke-width="0.6"/>
<line x1="745.05" y1="164.8" x2="745.05" y2="176.5" stroke="#a3a3a6" stroke-width="1.5"/>
<rect x="744.05" y="171.7" width="2.0" height="3.7" fill="#3d8849" stroke="#1d3c24" stroke-width="0.6"/>
<line x1="748.5" y1="169.4" x2="748.5" y2="183.6" stroke="#484a48" stroke-width="1"/>
<rect x="747.71" y="171.7" width="2.0" height="6.6" fill="#b02c42" stroke="#4e1620" stroke-width="0.6"/>
<line x1="752.5" y1="173.6" x2="752.5" y2="187.5" stroke="#484a48" stroke-width="1"/>
<rect x="751.37" y="178.9" width="2.0" height="5.6" fill="#b02c42" stroke="#4e1620" stroke-width="0.6"/>
<line x1="756.04" y1="167.8" x2="756.04" y2="192.8" stroke="#a3a3a6" stroke-width="1.5"/>
<rect x="755.04" y="170.1" width="2.0" height="14.4" fill="#3d8849" stroke="#1d3c24" stroke-width="0.6"/>
  </g>
  <!-- resistance line -->
  <path d="M96.3 101.8 H820" fill="none" stroke="#ebb0b6" stroke-width="1.9"/>
  <!-- channel -->
  <line x1="547.5" y1="228.1" x2="745.3" y2="129.1" stroke="#e67583" stroke-width="1"/>
  <line x1="576.9" y1="307.8" x2="736.5" y2="193.4" stroke="#e67583" stroke-width="1"/>
  <!-- dotted curve -->
  <path d="M8.8 344.9 Q302.1 381.4 595.3 311.3" fill="none" stroke="#e9475a" stroke-width="1.4" stroke-dasharray="2.1 1.6"/>
  <path d="M588.4 306.8 L595.6 311.4 L590.3 319" fill="none" stroke="#ea4355" stroke-width="1.2" stroke-dasharray="2 1.3"/>
  <!-- small dotted with x -->
  <path d="M686.8 215 H708.5 M719.5 215 H741.6" fill="none" stroke="#f3a6ae" stroke-width="1" stroke-dasharray="1 1.1"/>
  <!-- projection -->
  <path d="M763.3 183.3 L767 194.2 L770.3 180.3 L770.7 201.7 L778 170.3 L778.3 191.3 L784.2 155 L792.5 100.5" fill="none" stroke="#ee3f50" stroke-width="1.25" stroke-linejoin="miter"/>
  <path d="M785 105.5 L792.5 100.3 L798.3 107.5" fill="none" stroke="#ee3f50" stroke-width="1.25"/>
  <!-- blue box (semi-transparent, above drawings) -->
  <rect x="742" y="189.2" width="40.2" height="27.6" fill="rgb(164,199,239)" fill-opacity="0.45"/>
  <!-- icons -->
  <circle cx="756.0" cy="406.5" r="6.45" fill="#fff" stroke="#9f48c3" stroke-width="1.1"/>
  <path d="M758.00 403.25 L753.40 406.95 L755.65 406.95 L754.10 409.75 L758.50 406.05 L756.30 406.05 Z" fill="#9a3fc0" stroke="#9a3fc0" stroke-width="0.7" stroke-linejoin="round"/>
  <circle cx="796.3" cy="406.2" r="6.5" fill="#fdf1f2" stroke="#ea5f6d" stroke-width="0.95"/>
  <circle cx="796.3" cy="406.2" r="2.45" fill="#ec4459"/>
</svg>

<div class="abs" style="left:711.6px;top:209.6px;font-size:8.6px;color:#ee7f8c;">x</div>


<div class="abs pl" style="top:54.85px">147,000</div>
<div class="abs pl" style="top:84.41px">146,500</div>
<div class="abs pl" style="top:113.97px">146,000</div>
<div class="abs pl" style="top:143.53px">145,500</div>
<div class="abs pl" style="top:202.65px">144,500</div>
<div class="abs pl" style="top:232.21px">144,000</div>
<div class="abs pl" style="top:261.77px">143,500</div>
<div class="abs pl" style="top:291.33px">143,000</div>
<div class="abs pl" style="top:320.89px">142,500</div>
<div class="abs pl" style="top:350.45px">142,000</div>
<div class="abs pl" style="top:380.01px">141,500</div>
<div class="abs pl" style="top:409.57px;height:4.6px;overflow:hidden;">141,000</div>

<div id="tagr" class="abs tag"><span style="top:1.2px">146,285</span></div>
<div id="tagg" class="abs tag"><span style="top:0.6px">145,123</span><span style="top:9.6px;color:rgba(255,255,255,0.72)">38:59</span></div>

<div class="abs tl" style="left:38px">28</div>
<div class="abs tl" style="left:82px">29</div>
<div class="abs tl" style="left:126px">30</div>
<div class="abs tl" style="left:178px;font-weight:bold">Jun</div>
<div class="abs tl" style="left:214px">3</div>
<div class="abs tl" style="left:258px">4</div>
<div class="abs tl" style="left:302px">5</div>
<div class="abs tl" style="left:346px">6</div>
<div class="abs tl" style="left:390px">7</div>
<div class="abs tl" style="left:434px">10</div>
<div class="abs tl" style="left:478px">11</div>
<div class="abs tl" style="left:522px">12</div>
<div class="abs tl" style="left:566px">13</div>
<div class="abs tl" style="left:610px">14</div>
<div class="abs tl" style="left:653.5px">17</div>
<div class="abs tl" style="left:697.5px">18</div>
<div class="abs tl" style="left:741.5px">19</div>
<div class="abs tl" style="left:785.5px">20</div>

<svg id="logo" class="abs" width="14" height="12" viewBox="0 0 36 28" style="left:6.3px;top:439.1px;width:13.1px;height:10.2px;">
  <path d="M14 22H7V11H0V4h14v18z" fill="#131722"/>
  <circle cx="20" cy="8" r="4" fill="#131722"/>
  <path d="M28 22h-8l7.5-18h8L28 22z" fill="#131722"/>
</svg>
<div id="logot" class="abs">TradingView</div>
</body>
</html>
